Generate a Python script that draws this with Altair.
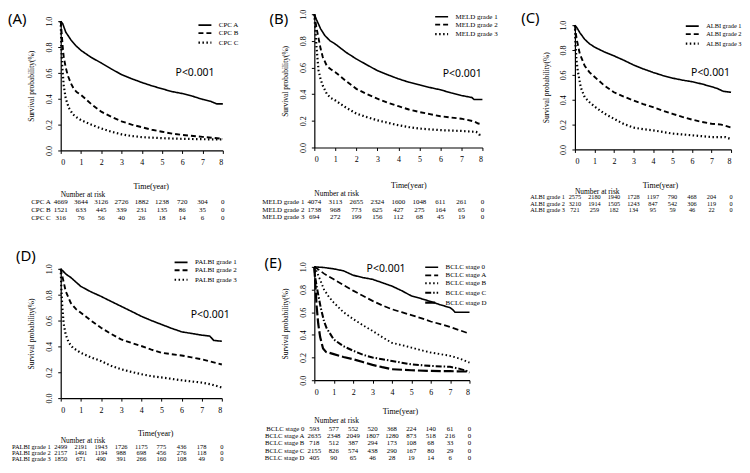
import altair as alt
import pandas as pd

SERIF = "Liberation Serif"
SANS = "Noto Sans"
TIMES = [0, 1, 2, 3, 4, 5, 6, 7, 8]

# ---------------- Panel A : CPC ----------------
A_names = ["CPC A", "CPC B", "CPC C"]
A1_t = [0, 0.1, 0.25, 0.5, 0.75, 1, 1.5, 2, 2.5, 3, 3.5, 4, 4.5, 5, 5.5, 6, 6.5, 7, 7.4, 7.7, 8]
A1_s = [1.0, 0.98, 0.915, 0.856, 0.81, 0.774, 0.72, 0.677, 0.63, 0.587, 0.555, 0.526, 0.5, 0.477, 0.455, 0.44, 0.42, 0.395, 0.38, 0.36, 0.36]
A2_t = [0, 0.05, 0.1, 0.15, 0.25, 0.35, 0.5, 0.65, 0.8, 1, 1.5, 2, 2.5, 3, 3.5, 4, 4.5, 5, 5.5, 6, 7, 8]
A2_s = [1.0, 0.9, 0.8, 0.72, 0.64, 0.58, 0.52, 0.475, 0.45, 0.43, 0.36, 0.3, 0.26, 0.225, 0.2, 0.18, 0.16, 0.145, 0.13, 0.12, 0.105, 0.09]
A3_t = [0, 0.03, 0.08, 0.15, 0.25, 0.4, 0.6, 0.8, 1, 1.5, 2, 2.5, 3, 3.5, 4, 5, 6, 7, 8]
A3_s = [1.0, 0.8, 0.64, 0.5, 0.4, 0.33, 0.28, 0.255, 0.235, 0.2, 0.17, 0.145, 0.125, 0.112, 0.103, 0.095, 0.09, 0.087, 0.085]
A_risk1 = [4669, 3644, 3126, 2726, 1882, 1238, 720, 304, 0]
A_risk2 = [1521, 633, 445, 339, 231, 135, 86, 35, 0]
A_risk3 = [316, 76, 56, 40, 26, 18, 14, 6, 0]

# ---------------- Panel B : MELD ----------------
B_names = ["MELD grade 1", "MELD grade 2", "MELD grade 3"]
B1_t = [0, 0.1, 0.3, 0.5, 0.75, 1, 1.5, 2, 2.5, 3, 3.5, 4, 4.5, 5, 5.5, 6, 6.5, 7, 7.5, 7.6, 8]
B1_s = [1.0, 0.96, 0.89, 0.84, 0.8, 0.776, 0.715, 0.664, 0.62, 0.577, 0.545, 0.515, 0.49, 0.47, 0.45, 0.433, 0.41, 0.39, 0.375, 0.36, 0.36]
B2_t = [0, 0.05, 0.1, 0.2, 0.3, 0.4, 0.6, 0.8, 1, 1.5, 2, 2.5, 3, 3.5, 4, 4.5, 5, 5.5, 6, 6.5, 7, 7.6, 7.8, 8]
B2_s = [1.0, 0.95, 0.9, 0.82, 0.74, 0.68, 0.61, 0.585, 0.565, 0.5, 0.44, 0.4, 0.366, 0.335, 0.31, 0.285, 0.266, 0.25, 0.234, 0.225, 0.216, 0.196, 0.18, 0.174]
B3_t = [0, 0.05, 0.1, 0.2, 0.3, 0.4, 0.6, 0.8, 1, 1.5, 2, 2.5, 3, 3.5, 4, 4.5, 5, 6, 7, 7.7, 7.85, 7.9]
B3_s = [1.0, 0.88, 0.76, 0.58, 0.51, 0.465, 0.4, 0.37, 0.353, 0.3, 0.254, 0.228, 0.204, 0.185, 0.167, 0.153, 0.142, 0.13, 0.124, 0.117, 0.1, 0.08]
B_risk1 = [4074, 3113, 2655, 2324, 1600, 1048, 611, 261, 0]
B_risk2 = [1738, 968, 773, 625, 427, 275, 164, 65, 0]
B_risk3 = [694, 272, 199, 156, 112, 68, 45, 19, 0]

# ---------------- Panel C : ALBI ----------------
C_names = ["ALBI grade 1", "ALBI grade 2", "ALBI grade 3"]
C1_t = [0, 0.1, 0.25, 0.5, 0.75, 1, 1.5, 2, 2.5, 3, 3.5, 4, 4.5, 5, 5.5, 6, 6.5, 7, 7.3, 7.6, 8]
C1_s = [1.0, 0.98, 0.94, 0.886, 0.85, 0.824, 0.785, 0.753, 0.718, 0.68, 0.648, 0.62, 0.595, 0.574, 0.558, 0.545, 0.527, 0.505, 0.49, 0.468, 0.46]
C2_t = [0, 0.05, 0.1, 0.25, 0.5, 0.75, 1, 1.5, 2, 2.5, 3, 3.5, 4, 4.5, 5, 5.5, 6, 6.5, 7, 7.5, 8]
C2_s = [1.0, 0.93, 0.88, 0.77, 0.673, 0.62, 0.585, 0.515, 0.46, 0.425, 0.394, 0.365, 0.34, 0.312, 0.287, 0.262, 0.24, 0.222, 0.207, 0.2, 0.176]
C3_t = [0, 0.03, 0.08, 0.15, 0.3, 0.5, 0.75, 1, 1.5, 2, 2.5, 3, 3.5, 4, 5, 6, 7, 7.7, 8]
C3_s = [1.0, 0.85, 0.72, 0.63, 0.5, 0.42, 0.38, 0.346, 0.29, 0.247, 0.205, 0.176, 0.163, 0.154, 0.128, 0.114, 0.1, 0.1, 0.083]
C_risk1 = [2575, 2180, 1940, 1728, 1197, 790, 468, 204, 0]
C_risk2 = [3210, 1914, 1505, 1243, 847, 542, 306, 119, 0]
C_risk3 = [721, 259, 182, 134, 95, 59, 46, 22, 0]

# ---------------- Panel D : PALBI ----------------
D_names = ["PALBI grade 1", "PALBI grade 2", "PALBI grade 3"]
D1_t = [0, 0.1, 0.25, 0.5, 1, 1.5, 2, 2.5, 3, 3.5, 4, 4.5, 5, 5.5, 6, 6.5, 7, 7.4, 7.6, 8]
D1_s = [1.0, 0.985, 0.96, 0.933, 0.864, 0.822, 0.787, 0.748, 0.71, 0.672, 0.633, 0.6, 0.57, 0.54, 0.513, 0.5, 0.487, 0.48, 0.446, 0.44]
D2_t = [0, 0.05, 0.1, 0.25, 0.5, 0.75, 1, 1.5, 2, 2.5, 3, 3.5, 4, 4.5, 5, 5.5, 6, 6.5, 7, 7.5, 8]
D2_s = [1.0, 0.96, 0.93, 0.826, 0.736, 0.69, 0.66, 0.6, 0.544, 0.497, 0.454, 0.428, 0.403, 0.375, 0.351, 0.34, 0.33, 0.315, 0.3, 0.28, 0.26]
D3_t = [0, 0.03, 0.08, 0.15, 0.25, 0.4, 0.6, 1, 1.5, 2, 2.5, 3, 3.5, 4, 4.5, 5, 6, 7, 7.5, 8]
D3_s = [1.0, 0.85, 0.7, 0.57, 0.49, 0.43, 0.39, 0.35, 0.315, 0.287, 0.25, 0.223, 0.203, 0.185, 0.17, 0.16, 0.138, 0.12, 0.105, 0.082]
D_risk1 = [2499, 2191, 1943, 1726, 1175, 775, 436, 178, 0]
D_risk2 = [2157, 1491, 1194, 988, 698, 456, 276, 118, 0]
D_risk3 = [1850, 671, 490, 391, 266, 160, 108, 49, 0]

# ---------------- Panel E : BCLC ----------------
E_names = ["BCLC stage 0", "BCLC stage A", "BCLC stage B", "BCLC stage C", "BCLC stage D"]
E0_t = [0, 0.5, 1, 1.5, 2, 2.5, 3, 3.5, 4, 4.5, 5, 5.5, 6, 6.5, 7, 7.15, 7.25, 8]
E0_s = [1.0, 0.994, 0.982, 0.965, 0.926, 0.905, 0.89, 0.86, 0.83, 0.79, 0.744, 0.72, 0.694, 0.665, 0.64, 0.62, 0.6, 0.6]
EA_t = [0, 0.1, 0.5, 1, 1.5, 2, 2.5, 3, 3.5, 4, 4.5, 5, 5.5, 6, 6.5, 7, 7.5, 8]
EA_s = [1.0, 0.99, 0.94, 0.89, 0.84, 0.79, 0.745, 0.7, 0.66, 0.626, 0.6, 0.574, 0.548, 0.518, 0.495, 0.47, 0.44, 0.41]
EB_t = [0, 0.1, 0.25, 0.5, 0.75, 1, 1.5, 2, 2.5, 3, 3.5, 4, 4.5, 5, 5.5, 6, 6.5, 7, 7.5, 8]
EB_s = [1.0, 0.97, 0.906, 0.8, 0.735, 0.685, 0.6, 0.54, 0.485, 0.435, 0.38, 0.33, 0.31, 0.288, 0.265, 0.244, 0.23, 0.215, 0.19, 0.156]
EC_t = [0, 0.05, 0.15, 0.33, 0.5, 0.63, 1, 1.5, 2, 2.5, 3, 3.5, 4, 4.5, 5, 6, 7, 7.5, 7.8, 8]
EC_s = [1.0, 0.9, 0.8, 0.64, 0.52, 0.46, 0.36, 0.3, 0.26, 0.225, 0.2, 0.185, 0.17, 0.155, 0.14, 0.126, 0.118, 0.1, 0.085, 0.068]
ED_t = [0, 0.05, 0.12, 0.2, 0.3, 0.45, 0.6, 1, 1.5, 2, 2.5, 3, 3.5, 4, 5, 6, 7, 8]
ED_s = [1.0, 0.85, 0.65, 0.5, 0.38, 0.28, 0.25, 0.23, 0.205, 0.185, 0.16, 0.135, 0.115, 0.097, 0.088, 0.082, 0.08, 0.076]
E_risk0 = [593, 577, 552, 520, 368, 224, 140, 61, 0]
E_riskA = [2635, 2348, 2049, 1807, 1280, 873, 518, 216, 0]
E_riskB = [718, 512, 387, 294, 173, 108, 68, 33, 0]
E_riskC = [2155, 826, 574, 438, 290, 167, 80, 29, 0]
E_riskD = [405, 90, 65, 46, 28, 19, 14, 6, 0]

SOLID, DASH, DOT = [1, 0], [5, 3], [1.5, 2.5]
LEGEND_LINE = "M-1.86,0H1.86"


def km_panel(label, names, curves, risks, dashes, widths, g):
    W, H = g["W"], g["H"]
    rows = []
    for name, (ts, ss) in zip(names, curves):
        for t, s in zip(ts, ss):
            rows.append({"group": name, "t": t, "s": s})
    cdf = pd.DataFrame(rows)
    trows = []
    for name, rk in zip(names, risks):
        for t, n in zip(TIMES, rk):
            trows.append({"group": name, "t": t, "n": n})
    tdf = pd.DataFrame(trows)

    xscale = alt.Scale(domain=[0, 8], nice=False)
    xax = alt.Axis(values=TIMES, tickCount=9, format="d", title="Time(year)", grid=False, labelOverlap=False,
                   labelFont=SERIF, labelFontSize=8, labelColor="#000000", labelPadding=5,
                   tickSize=3, tickColor="black", domainColor="black", domainWidth=1.2,
                   titleFont=SERIF, titleFontSize=8, titleFontWeight="normal", titleColor="black",
                   titleX=W / 2 + g["tdx"], titleY=g["tY"], titleBaseline="middle")
    yscale = alt.Scale(domain=[0, 1], range=[H, g["top"]], nice=False)
    yax = alt.Axis(values=[0, 0.2, 0.4, 0.6, 0.8, 1.0], tickCount=6, format=".1f", grid=False,
                   labelOverlap=False, labelFlush=g.get("flush", False),
                   title="Survival probability(%)", labelAngle=270, labelAlign="center",
                   labelBaseline="bottom", labelFont=SERIF, labelFontSize=8, labelColor="#000000",
                   labelPadding=4, tickSize=3, tickColor="black", domainColor="black", domainWidth=1.2,
                   titleFont=SERIF, titleFontSize=7.5, titleFontWeight="normal", titleColor="black",
                   titleX=-29, titleBaseline="middle")

    legend = alt.Legend(orient="none", legendX=g["lx"] + 3, legendY=g["ly"], title=None,
                        symbolType=LEGEND_LINE, symbolStrokeColor="black", symbolStrokeWidth=1,
                        symbolFillColor="transparent",
                        symbolSize=49, labelFont=SERIF, labelFontSize=g.get("lfs", 7), labelColor="black",
                        labelOffset=9, rowPadding=0, padding=0)

    X = alt.X("t:Q", scale=xscale, axis=xax, title="Time(year)")
    lines = alt.Chart(cdf).mark_line(color="black").encode(
        x=X,
        y=alt.Y("s:Q", scale=yscale, axis=yax, title="Survival probability(%)"),
        strokeDash=alt.StrokeDash("group:N", scale=alt.Scale(domain=names, range=dashes), legend=legend),
        strokeWidth=alt.StrokeWidth("group:N", scale=alt.Scale(domain=names, range=widths), legend=None),
    )
    ptext = alt.Chart(pd.DataFrame({"p": ["P<0.001"]})).mark_text(
        font=SANS, fontSize=10.5, color="black").encode(
        x=alt.XDatum(g["px"], scale=xscale, axis=xax, title="Time(year)"),
        y=alt.YDatum(g["py"], scale=yscale, axis=yax, title="Survival probability(%)"),
        text="p:N")
    plab = alt.Chart(pd.DataFrame({"l": [label]})).mark_text(
        font=SANS, fontSize=15, color="black", align="left", baseline="middle").encode(
        x=alt.value(g["lab"][0]), y=alt.value(g["lab"][1]), text="l:N")
    plot = alt.layer(lines, ptext, plab)

    rscale = alt.Scale(type="point", domain=names, range=g["rows"], padding=0)
    nums = alt.Chart(tdf).mark_text(font=SERIF, fontSize=g["fs"], color="black", baseline="middle").encode(
        x=X,
        y=alt.Y("group:N", scale=rscale, axis=None),
        text="n:Q")
    labs = alt.Chart(pd.DataFrame({"group": names})).mark_text(
        font=SERIF, fontSize=g["fs"], color="black", align="right", baseline="middle", dx=g["rdx"]).encode(
        x=alt.value(0), y=alt.Y("group:N", scale=rscale, axis=None), text="group:N")
    nar = alt.Chart(pd.DataFrame({"h": ["Number at risk"]})).mark_text(
        font=SERIF, fontSize=7.5, color="black", align="left", baseline="middle").encode(
        x=alt.value(0), y=alt.value(g["nar"]), text="h:N")
    table = alt.layer(nums, labs, nar)

    return alt.layer(plot, table).resolve_scale(y="independent").properties(width=W, height=H)


gA = dict(W=163, H=137, top=7, tdx=9, tY=36, lx=137, ly=6.5, px=6.63, py=0.60,
          lab=(-53, 5), rows=[189, 205], nar=182, fs=7, rdx=-10)
gB = dict(W=169, H=134, top=0, tdx=10, tY=38, lx=120, ly=-2, px=7.04, py=0.552, flush=True,
          lab=(-45, 5), rows=[189, 204], nar=181, fs=7, rdx=-10)
gC = dict(W=157, H=136, top=11, tdx=7, tY=36, lx=110, ly=7.5, px=6.95, py=0.616, lfs=6.4,
          lab=(-54, 4), rows=[184, 197], nar=179, fs=6.3, rdx=-10)
gD = dict(W=162, H=132, top=2, tdx=14, tY=36, lx=113, ly=-9, px=7.42, py=0.645,
          lab=(-45, -11), rows=[181, 193], nar=175, fs=6.5, rdx=-10)
gE = dict(W=156, H=114, top=0, tdx=8, tY=31, lx=110, ly=-4, px=3.70, py=0.98,
          lab=(-50, -4), rows=[163, 192], nar=155, fs=6.8, rdx=-10)

W3 = [1.6, 2.2, 2.4]
pA = km_panel("(A)", A_names, [(A1_t, A1_s), (A2_t, A2_s), (A3_t, A3_s)],
              [A_risk1, A_risk2, A_risk3], [SOLID, DASH, DOT], W3, gA)
pB = km_panel("(B)", B_names, [(B1_t, B1_s), (B2_t, B2_s), (B3_t, B3_s)],
              [B_risk1, B_risk2, B_risk3], [SOLID, DASH, DOT], W3, gB)
pC = km_panel("(C)", C_names, [(C1_t, C1_s), (C2_t, C2_s), (C3_t, C3_s)],
              [C_risk1, C_risk2, C_risk3], [SOLID, DASH, DOT], W3, gC)
pD = km_panel("(D)", D_names, [(D1_t, D1_s), (D2_t, D2_s), (D3_t, D3_s)],
              [D_risk1, D_risk2, D_risk3], [SOLID, DASH, DOT], W3, gD)
pE = km_panel("(E)", E_names, [(E0_t, E0_s), (EA_t, EA_s), (EB_t, EB_s), (EC_t, EC_s), (ED_t, ED_s)],
              [E_risk0, E_riskA, E_riskB, E_riskC, E_riskD],
              [SOLID, [6, 3], DOT, [6, 2, 1.5, 2], [10, 3]], [1.6, 2.2, 2.4, 2.2, 2.4], gE)

IND = dict(x="independent", y="independent", strokeDash="independent", strokeWidth="independent")
top = alt.hconcat(alt.hconcat(pA, pB, spacing=22).resolve_scale(**IND), pC, spacing=23).resolve_scale(**IND)
bot = alt.hconcat(pD, pE, spacing=26).resolve_scale(**IND)
chart = (alt.vconcat(top, bot, spacing=28).resolve_scale(**IND)
         .properties(padding=0)
         .configure_axis(labelColor="#000000")
         .configure_view(stroke=None))

chart.save("out.html", embed_options={"renderer": "svg", "actions": False})
